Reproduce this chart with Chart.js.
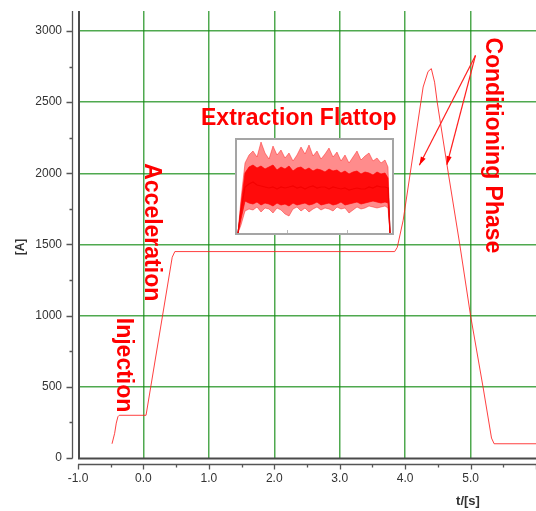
<!DOCTYPE html>
<html>
<head>
<meta charset="utf-8">
<script src="https://cdn.jsdelivr.net/npm/chart.js@4"></script>
<style>
body { margin: 0; background: #fff; }
#wrap { position: relative; width: 536px; height: 511px; }
#inset { position: absolute; left: 235px; top: 138px; width: 155px; height: 93px; border: 2px solid #a5a5a5; background: #fff; }
#inset canvas { display: block; }
</style>
</head>
<body>
<div id="wrap">
  <canvas id="main" width="536" height="511"></canvas>
  <div id="inset"><canvas id="flat" width="155" height="93"></canvas></div>
</div>
<script>
// main cycle: time [s] and current [A]
var tData = [-0.48, -0.44, -0.415, -0.39, -0.37, 0.04, 0.44, 0.48, 3.84, 3.88, 3.97, 4.275, 4.35, 4.40, 4.45, 4.49, 4.66, 4.835, 5.00, 5.19, 5.32, 5.36, 6.0];
var iData = [100, 173, 245, 290, 300, 300, 1410, 1450, 1450, 1480, 1670, 2606, 2715, 2735, 2640, 2500, 2000, 1500, 1000, 500, 140, 100, 100];

var xTicks = [-1, 0, 1, 2, 3, 4, 5, 6];
var xLabels = ['-1.0', '0.0', '1.0', '2.0', '3.0', '4.0', '5.0', ''];
var yTicks = [0, 500, 1000, 1500, 2000, 2500, 3000];

// flattop inset (zoomed, arbitrary units)
var insetX = [1, 4, 8, 12, 16, 20, 24, 28, 32, 36, 40, 44, 48, 52, 56, 60, 64, 68, 72, 76, 80, 84, 88, 92, 96, 100, 104, 108, 112, 116, 120, 124, 128, 132, 136, 140, 144, 148, 151, 153];
var insetOuterHi = [0, 34, 70, 78, 82, 76, 91, 80, 74, 87, 78, 83, 75, 80, 72, 78, 86, 79, 88, 77, 82, 74, 79, 85, 76, 81, 72, 78, 70, 76, 82, 73, 77, 80, 72, 75, 70, 73, 66, 0];
var insetCoreHi = [0, 28, 60, 66, 68, 65, 67, 64, 66, 68, 63, 66, 64, 67, 62, 65, 66, 63, 65, 62, 64, 63, 61, 64, 62, 63, 60, 62, 59, 61, 62, 59, 61, 60, 58, 61, 59, 60, 55, 0];
var insetMean = [0, 22, 46, 49, 51, 48, 47, 46, 45, 46, 44, 46, 45, 46, 47, 45, 46, 44, 46, 47, 45, 46, 46, 44, 46, 45, 44, 45, 43, 44, 45, 44, 44, 46, 45, 47, 46, 46, 45, 0];
var insetCoreLo = [0, 14, 32, 30, 29, 31, 28, 30, 29, 27, 30, 28, 29, 27, 30, 28, 29, 30, 28, 29, 31, 28, 29, 30, 28, 29, 31, 28, 29, 30, 31, 29, 30, 31, 32, 31, 30, 31, 30, 0];
var insetOuterLo = [0, 8, 22, 24, 23, 26, 21, 25, 24, 20, 25, 23, 19, 17, 24, 26, 22, 25, 21, 24, 26, 23, 25, 24, 22, 26, 24, 25, 20, 23, 26, 24, 25, 27, 26, 25, 26, 27, 25, 0];

// annotations, in data units of the main chart
var notes = [
  { text: 'Extraction Flattop', t: 0.88, v: 2342, rot: 0 },
  { text: 'Acceleration', t: 0.124, v: 1586, rot: 1 },
  { text: 'Injection', t: -0.304, v: 653, rot: 1 },
  { text: 'Conditioning Phase', t: 5.33, v: 2196, rot: 1 }
];
var arrowFrom = { t: 5.075, v: 2828 };
var arrowTips = [{ t: 4.217, v: 2056 }, { t: 4.638, v: 2060 }];

const font = "'Liberation Sans', Arial, sans-serif";

function pts(xs, ys) {
  return xs.map((x, k) => ({ x: x, y: ys[k] }));
}

// keep the plot area fixed: no extra label padding around the scales
function noPad(s) {
  s.paddingTop = 0; s.paddingBottom = 0; s.paddingLeft = 0; s.paddingRight = 0;
}

const decor = {
  id: 'decor',
  afterDatasetsDraw(chart) {
    const c = chart.ctx, xs = chart.scales.x, ys = chart.scales.y, a = chart.chartArea;
    c.save();
    // plot frame
    c.strokeStyle = '#4a4a4a';
    c.lineWidth = 2;
    c.beginPath();
    c.moveTo(a.left + 1, a.top);
    c.lineTo(a.left + 1, a.bottom + 0.5);
    c.lineTo(a.right, a.bottom + 0.5);
    c.stroke();
    // detached axis lines with ticks
    const ax = a.left - 5.5, ay = a.bottom + 6.5;
    c.strokeStyle = '#555';
    c.lineWidth = 1.3;
    c.beginPath();
    c.moveTo(ax, a.top); c.lineTo(ax, a.bottom + 0.5);
    c.moveTo(a.left, ay); c.lineTo(a.right, ay);
    for (let v = 0; v <= 3000; v += 250) {
      const p = Math.round(ys.getPixelForValue(v)) + 0.5;
      c.moveTo(ax - (v % 500 === 0 ? 6 : 3), p); c.lineTo(ax, p);
    }
    for (let t = -1; t <= 6; t += 0.5) {
      const p = Math.round(xs.getPixelForValue(t)) + 0.5;
      c.moveTo(p, ay); c.lineTo(p, ay + (t % 1 === 0 ? 5 : 3));
    }
    c.stroke();
    // axis titles
    c.fillStyle = '#333';
    c.font = 'bold 13px ' + font;
    c.textAlign = 'center';
    c.textBaseline = 'middle';
    c.fillText('t/[s]', 468, 501);
    c.save();
    c.translate(20.5, 247);
    c.rotate(-Math.PI / 2);
    c.font = 'bold 12px ' + font;
    c.fillText('[A]', 0, 0);
    c.restore();
    // annotations
    c.fillStyle = '#ff0000';
    c.font = 'bold 23px ' + font;
    notes.forEach(n => {
      const x = xs.getPixelForValue(n.t), y = ys.getPixelForValue(n.v);
      if (n.rot) {
        c.save();
        c.translate(x, y);
        c.rotate(Math.PI / 2);
        c.textAlign = 'center';
        c.textBaseline = 'middle';
        c.fillText(n.text, 0, 0);
        c.restore();
      } else {
        c.textAlign = 'left';
        c.textBaseline = 'alphabetic';
        c.fillText(n.text, x, y);
      }
    });
    // arrows
    const ox = xs.getPixelForValue(arrowFrom.t), oy = ys.getPixelForValue(arrowFrom.v);
    c.strokeStyle = '#ff2020';
    c.lineWidth = 1.2;
    arrowTips.forEach(tp => {
      const tx = xs.getPixelForValue(tp.t), ty = ys.getPixelForValue(tp.v);
      const ang = Math.atan2(ty - oy, tx - ox);
      c.beginPath();
      c.moveTo(ox, oy); c.lineTo(tx, ty);
      c.stroke();
      c.beginPath();
      c.moveTo(tx, ty);
      c.lineTo(tx - 9 * Math.cos(ang - 0.3), ty - 9 * Math.sin(ang - 0.3));
      c.lineTo(tx - 9 * Math.cos(ang + 0.3), ty - 9 * Math.sin(ang + 0.3));
      c.closePath();
      c.fill();
    });
    c.restore();
  }
};

new Chart(document.getElementById('main'), {
  type: 'line',
  data: {
    datasets: [{
      data: pts(tData, iData),
      borderColor: 'rgba(255,30,30,0.85)',
      borderWidth: 1,
      pointRadius: 0,
      pointHoverRadius: 0,
      tension: 0,
      fill: false
    }]
  },
  options: {
    responsive: false,
    animation: false,
    layout: { autoPadding: false, padding: { top: 11, right: 0, left: 0, bottom: 0 } },
    plugins: { legend: { display: false }, tooltip: { enabled: false } },
    scales: {
      x: {
        type: 'linear', min: -1, max: 6,
        afterBuildTicks: s => { s.ticks = xTicks.map(v => ({ value: v })); },
        afterFit: s => { s.height = 53; noPad(s); },
        ticks: {
          autoSkip: false, maxRotation: 0, padding: 13,
          color: '#333', font: { family: font, size: 12 },
          callback: (v, k) => xLabels[k]
        },
        grid: {
          drawTicks: false,
          lineWidth: 1.5,
          color: ctx => (ctx.tick && (ctx.tick.value === -1 || ctx.tick.value === 6)) ? 'rgba(0,0,0,0)' : 'rgba(20,140,20,0.75)'
        },
        border: { display: false }
      },
      y: {
        type: 'linear', min: 0, max: 3140,
        afterBuildTicks: s => { s.ticks = yTicks.map(v => ({ value: v })); },
        afterFit: s => { s.width = 78; noPad(s); },
        ticks: {
          padding: 16, color: '#333', font: { family: font, size: 12 },
          callback: v => String(v)
        },
        grid: {
          drawTicks: false,
          lineWidth: 1.5,
          color: ctx => (ctx.tick && ctx.tick.value === 0) ? 'rgba(0,0,0,0)' : 'rgba(20,140,20,0.75)'
        },
        border: { display: false }
      }
    }
  },
  plugins: [decor]
});

const insetTicks = {
  id: 'insetTicks',
  afterDraw(chart) {
    const c = chart.ctx, xs = chart.scales.x, a = chart.chartArea;
    c.save();
    c.strokeStyle = '#bbb';
    c.lineWidth = 1;
    c.beginPath();
    [50, 110].forEach(v => {
      const p = Math.round(xs.getPixelForValue(v)) + 0.5;
      c.moveTo(p, a.bottom); c.lineTo(p, a.bottom - 3);
    });
    c.stroke();
    c.restore();
  }
};

new Chart(document.getElementById('flat'), {
  type: 'line',
  data: {
    datasets: [
      { data: pts(insetX, insetOuterHi), borderColor: 'rgba(255,0,0,0.5)', borderWidth: 0.8, backgroundColor: 'rgba(255,0,0,0.45)', fill: '+1', pointRadius: 0 },
      { data: pts(insetX, insetOuterLo), borderColor: 'rgba(255,0,0,0.5)', borderWidth: 0.8, fill: false, pointRadius: 0 },
      { data: pts(insetX, insetCoreHi), borderColor: 'rgba(255,0,0,0.9)', borderWidth: 0.8, backgroundColor: 'rgba(255,0,0,0.92)', fill: '+1', pointRadius: 0 },
      { data: pts(insetX, insetCoreLo), borderColor: 'rgba(255,0,0,0.9)', borderWidth: 0.8, fill: false, pointRadius: 0 },
      { data: pts(insetX, insetMean), borderColor: '#200000', borderWidth: 1.2, fill: false, pointRadius: 0 }
    ]
  },
  options: {
    responsive: false,
    animation: false,
    layout: { autoPadding: false, padding: 0 },
    plugins: { legend: { display: false }, tooltip: { enabled: false } },
    scales: {
      x: { type: 'linear', min: 0, max: 155, display: false },
      y: { type: 'linear', min: 0, max: 93, display: false }
    }
  },
  plugins: [insetTicks]
});
</script>
</body>
</html>
